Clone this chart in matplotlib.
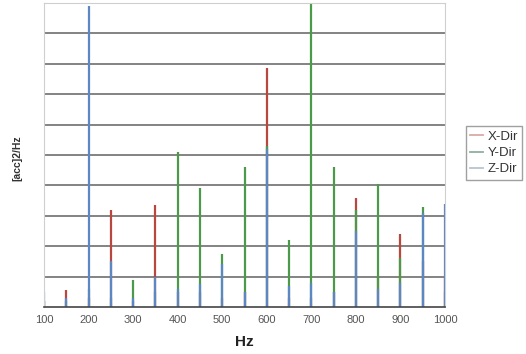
import matplotlib.pyplot as plt
from matplotlib.lines import Line2D

# peak frequencies and amplitudes per direction (0-10 grid units)
freqs = [100, 150, 200, 250, 300, 350, 400, 450, 500, 550,
         600, 650, 700, 750, 800, 850, 900, 950, 1000]
x_dir = [0.2, 0.55, 0.3, 3.2, 0.2, 3.35, 0.5, 0.5, 0.3, 0.5,
         7.85, 0.3, 0.3, 0.5, 3.6, 1.0, 2.4, 1.5, 1.0]
y_dir = [0.2, 0.2, 0.6, 0.3, 0.9, 0.5, 5.1, 3.9, 1.75, 4.6,
         5.3, 2.2, 10.0, 4.6, 3.2, 4.05, 1.6, 3.3, 0.5]
z_dir = [0.5, 0.3, 9.9, 1.5, 0.3, 1.0, 0.6, 0.75, 1.4, 0.5,
         5.2, 0.7, 0.8, 0.5, 2.5, 0.6, 0.8, 3.1, 3.4]
series = ["X-Dir", "Y-Dir", "Z-Dir"]
colors = ["#b8473f", "#4a9a4a", "#5b87c5"]
legend_colors = ["#d8aaa6", "#8fb09f", "#b9c4cf"]
xticks = [100, 200, 300, 400, 500, 600, 700, 800, 900, 1000]

plt.rcParams["font.family"] = ["Liberation Sans", "DejaVu Sans"]

fig = plt.figure(figsize=(5.26, 3.54), dpi=100)
ax = fig.add_axes([44 / 526, 1 - 307 / 354, 401 / 526, 304 / 354])

for i in range(10):
    ax.axhline(i + 1, color="#7a7a7a", lw=1.3, zorder=1)

for vals, c in zip([x_dir, y_dir, z_dir], colors):
    ax.vlines(freqs, 0, vals, color=c, lw=1.6, zorder=2)

ax.set_xlim(100, 1000)
ax.set_ylim(0, 10)
ax.set_yticks([])
ax.set_xticks(xticks)
ax.tick_params(axis="x", length=0, pad=6, labelsize=8, labelcolor="#555555")
for s in ["top", "right", "left"]:
    ax.spines[s].set_color("#cfcfcf")
ax.spines["bottom"].set_color("#444444")
ax.spines["bottom"].set_linewidth(1.2)

ax.set_xlabel("Hz", fontsize=11, fontweight="bold", color="#222222", labelpad=7)
fig.text(17 / 526, 1 - 158 / 354, "[acc]2/Hz", rotation=90, ha="center", va="center",
         fontsize=7.5, fontweight="bold", color="#333333")

handles = [Line2D([], [], color=c, lw=1.3) for c in legend_colors]
leg = fig.legend(handles, series, loc="center", bbox_to_anchor=(494 / 526, 1 - 153 / 354),
                 frameon=True, fancybox=False, fontsize=9.5, handlelength=1.0,
                 handletextpad=0.3, labelspacing=0.3, borderpad=0.35)
leg.get_frame().set_edgecolor("#888888")
leg.get_frame().set_linewidth(1.0)
for t in leg.get_texts():
    t.set_color("#333333")

fig.savefig("out.png", dpi=100)
